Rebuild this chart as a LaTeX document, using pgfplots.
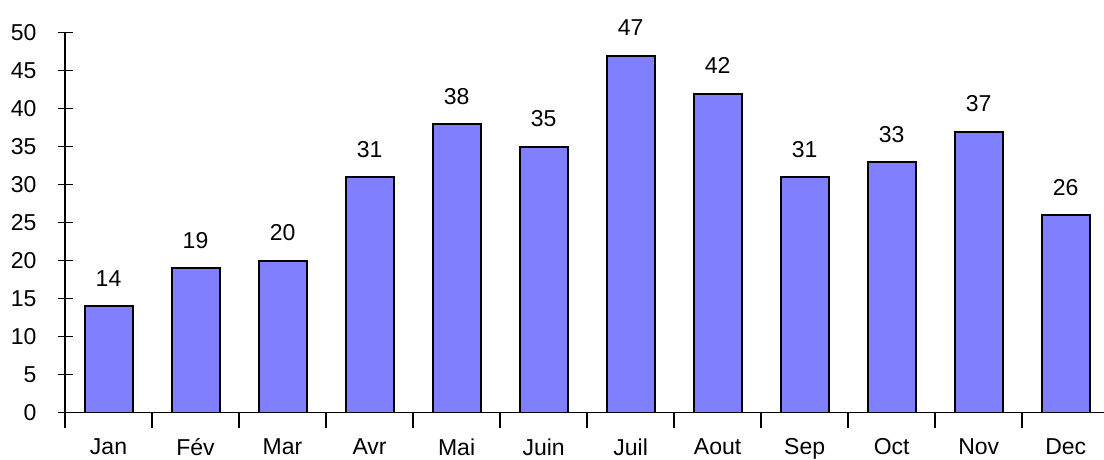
\documentclass[border=0pt]{standalone}
\usepackage{pgfplots}
\pgfplotsset{compat=1.18}
\usepackage{fontspec}
\setmainfont{Liberation Sans}
\definecolor{barblue}{HTML}{8080FF}
\begin{document}
\begin{tikzpicture}
\begin{axis}[
  name=ax,
  scale only axis,
  width=519.5pt, height=190pt,
  /pgf/number format/assume math mode=true,
  font=\fontsize{11.5}{13}\selectfont,
  axis x line=bottom, axis y line=left,
  axis line style={-, line width=0.75pt, black},
  xmin=-0.5, xmax=11.44,
  ymin=0, ymax=50,
  ytick={0,5,...,50},
  xtick={-0.5,0.5,...,10.5},
  xticklabels={},
  extra x ticks={0,1,2,3,4,5,6,7,8,9,10,11},
  extra x tick labels={Jan,Fév,Mar,Avr,Mai,Juin,Juil,Aout,Sep,Oct,Nov,Dec},
  extra x tick style={major tick length=0pt, xticklabel style={anchor=north, yshift=-9.5pt}},
  tick align=center,
  major tick length=7.5pt,
  tick style={line width=0.75pt, black},
  yticklabel style={anchor=east, xshift=-7pt},
  ybar, bar width=24pt,
  nodes near coords,
  every node near coord/.append style={anchor=south, yshift=6pt, font=\fontsize{11.5}{13}\selectfont},
]
\addplot[fill=barblue, draw=black, line width=1pt] coordinates {
(0,14) (1,19) (2,20) (3,31) (4,38) (5,35) (6,47) (7,42) (8,31) (9,33) (10,37) (11,26)};
\end{axis}
\pgfresetboundingbox
\useasboundingbox ([xshift=-32.5pt,yshift=-23.65pt]ax.south west) rectangle ([yshift=16.35pt]ax.north east);
\end{tikzpicture}
\end{document}
